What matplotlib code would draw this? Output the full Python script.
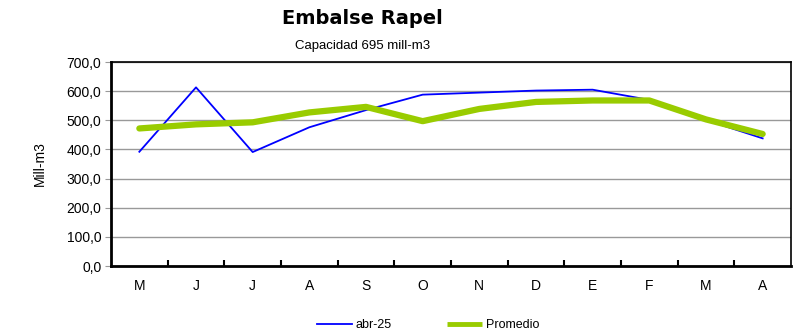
import numpy as np
import matplotlib.pyplot as plt

plt.rcParams['font.family'] = ['Liberation Sans', 'DejaVu Sans']

# Monthly volume (mill-m3)
meses = ["M", "J", "J", "A", "S", "O", "N", "D", "E", "F", "M", "A"]
abr25 = [392, 613, 391, 476, 535, 588, 595, 602, 605, 570, 501, 438]
promedio = [472, 486, 493, 527, 546, 497, 539, 563, 568, 568, 503, 453]

x = np.arange(len(meses))

fig = plt.figure(figsize=(8.05, 3.33), dpi=100)
ax = fig.add_axes([0.1379, 0.2012, 0.8447, 0.6126])

ax.plot(x, abr25, color='#0000ff', lw=1.3, label="abr-25", zorder=3)
ax.plot(x, promedio, color='#99cc00', lw=4.5, label="Promedio", zorder=4,
        solid_capstyle='round', solid_joinstyle='round')

ax.set_xlim(-0.5, len(meses) - 0.5)
ax.set_ylim(0, 700)
ax.set_yticks(np.arange(0, 701, 100))
ax.set_yticklabels([f"{v:.1f}".replace(".", ",") for v in range(0, 701, 100)], fontsize=10)
ax.yaxis.grid(True, color='#999999', lw=1)
ax.set_axisbelow(True)
ax.tick_params(axis='y', length=4, color='#999999', pad=3)

# month labels centred, boundary ticks pointing inward
ax.set_xticks(x)
ax.set_xticklabels(meses, fontsize=10)
ax.tick_params(axis='x', which='major', length=0, pad=9)
ax.set_xticks(np.arange(0.5, len(meses) - 1, 1), minor=True)
ax.tick_params(axis='x', which='minor', direction='in', length=4, width=1.5, color='black')

for side in ['left', 'bottom']:
    ax.spines[side].set_linewidth(2)
for side in ['top', 'right']:
    ax.spines[side].set_linewidth(1.2)

ax.set_ylabel("Mill-m3", fontsize=10, labelpad=14)

fig.text(0.45, 0.945, "Embalse Rapel", ha='center', va='center', fontsize=14, fontweight='bold',
         family=['DejaVu Sans'])
fig.text(0.45, 0.862, "Capacidad 695 mill-m3", ha='center', va='center', fontsize=9.5)

leg = ax.legend(loc='upper center', bbox_to_anchor=(0.466, -0.205), ncol=2, frameon=False,
                fontsize=9, handlelength=2.8, handletextpad=0.3, columnspacing=4.4)
leg.get_lines()[1].set_linewidth(3.5)
leg.get_lines()[1].set_solid_capstyle('butt')

fig.savefig("out.png", dpi=100)
